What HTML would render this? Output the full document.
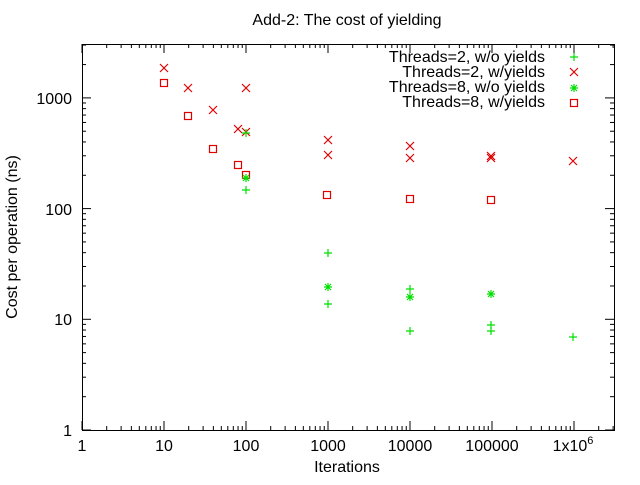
<!DOCTYPE html><html><head><style>body{margin:0;background:#fff}svg{font-family:"Liberation Sans",sans-serif;font-size:16px}</style></head><body>
<svg width="640" height="480" xmlns="http://www.w3.org/2000/svg">
<defs>
<g id="p"><path d="M-4,0H4M0,-4V4" stroke="#00e000" stroke-width="1.2"/></g>
<g id="x"><path d="M-4,-4L4,4M-4,4L4,-4" stroke="#e00000" stroke-width="1.2"/></g>
<g id="s"><path d="M-4,0H4M0,-4V4M-3,-3L3,3M-3,3L3,-3" stroke="#00e000" stroke-width="1.2"/><circle r="1.5" fill="#00e000"/></g>
<g id="q"><rect x="-3.5" y="-3.5" width="7" height="7" fill="none" stroke="#e00000" stroke-width="1.2"/></g>
</defs>
<g id="ticks" stroke="#000" stroke-width="1"></g>
<rect x="82.5" y="44.5" width="532" height="386" fill="none" stroke="#000"/>
<text x="347" y="25" text-anchor="middle">Add-2: The cost of yielding</text>
<text x="347" y="472" text-anchor="middle">Iterations</text>
<text transform="translate(17,237) rotate(-90)" text-anchor="middle">Cost per operation (ns)</text>
<g text-anchor="end">
<text x="72" y="436">1</text><text x="72" y="325">10</text><text x="72" y="215">100</text><text x="72" y="104">1000</text>
</g>
<g text-anchor="middle">
<text x="82" y="451">1</text><text x="164" y="451">10</text><text x="246" y="451">100</text><text x="328" y="451">1000</text><text x="410" y="451">10000</text><text x="492" y="451">100000</text><text x="573" y="451">1x10<tspan font-size="11" dy="-7">6</tspan></text>
</g>
<g text-anchor="end">
<text x="545" y="62">Threads=2, w/o yields</text>
<text x="545" y="77">Threads=2, w/yields</text>
<text x="545" y="92">Threads=8, w/o yields</text>
<text x="545" y="107">Threads=8, w/yields</text>
</g>
<use href="#p" x="574" y="57"/><use href="#x" x="574" y="72"/><use href="#s" x="574" y="88"/><use href="#q" x="574" y="103"/>
<g id="pts"></g>
</svg>
<script>
var t=document.getElementById('ticks'),h='';
function L(a,b,c,d){h+='<line x1="'+a+'" y1="'+b+'" x2="'+c+'" y2="'+d+'"/>';}
for(var d=0;d<7;d++)for(var k=1;k<10;k++){var x=82+82*(d+Math.log10(k));if(x>614)continue;var l=k==1?9:4;L(x,430,x,430-l);L(x,44,x,44+l);}
for(var d=0;d<4;d++)for(var k=1;k<10;k++){var y=430-110.7*(d+Math.log10(k));if(y<45)continue;var l=k==1?9:4;L(82,y,82+l,y);L(614,y,614-l,y);}
t.innerHTML=h;
var P=[['x',164,68],['x',188,88],['x',213,110],['x',238,129],['x',246,88],['x',246,132],['x',328,140],['x',328,155],['x',410,146],['x',410,158],['x',491,156],['x',491,158],['x',573,161],
['q',164,83],['q',188,116],['q',213,149],['q',238,165],['q',246,175],['q',327,195],['q',410,199],['q',491,200],
['p',246,133],['p',246,190],['p',328,253],['p',328,304],['p',410,289],['p',410,331],['p',491,325],['p',491,331],['p',573,337],
['s',246,178],['s',328,287],['s',410,297],['s',491,294]];
var g='';P.forEach(function(a){g+='<use href="#'+a[0]+'" x="'+a[1]+'" y="'+a[2]+'"/>';});
document.getElementById('pts').innerHTML=g;
</script>
</body></html>
